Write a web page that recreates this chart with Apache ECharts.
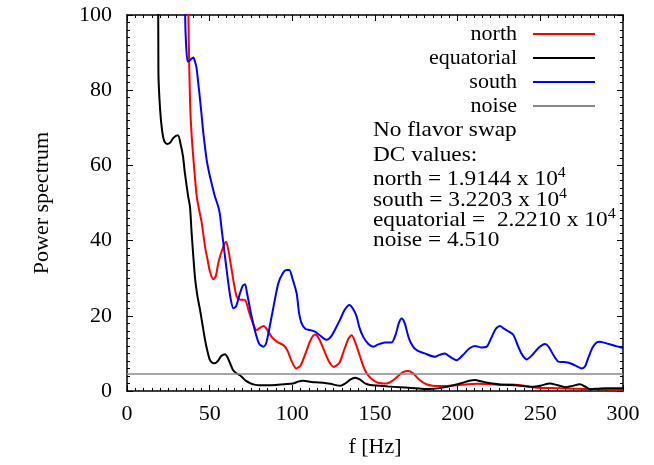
<!DOCTYPE html>
<html><head><meta charset="utf-8">
<script src="https://cdn.jsdelivr.net/npm/echarts@6/dist/echarts.min.js"></script>
<style>html,body{margin:0;padding:0;background:#fff}#c{width:654px;height:465px}</style>
</head><body><div id="c"></div>
<script>
// Frequencies in Hz, power spectrum values
const northData = [
  [36.6,130],[37.2,98],[38.1,77.4],[39.1,68],[40.5,60],[42.1,52],[43.7,48],[45.2,44.7],[47.2,38.4],[48.7,35],
  [50.2,31.7],[52.2,29.7],[53.7,30.5],[55.2,34],[57.5,37.5],[59.9,39.7],[61.5,37],[63.3,32.2],[66.3,25.1],[68.5,24.3],
  [71.4,24.2],[73.5,21.5],[75.4,18.9],[78.4,16.2],[80.5,16.8],[82.4,17.3],[84,16.8],[87.5,14.4],[91,13],[94.6,12.2],
  [97,10.8],[99.5,8],[102.3,6.0],[105,6.8],[108,10],[111,13.5],[113.7,15.0],[116,14],[119,11],[122,8],
  [125,6.4],[128.5,7.5],[131,10.5],[134,14],[135.9,14.8],[138,13],[141,9.1],[143,6.5],[145,4.7],[148,3.2],
  [151.8,2.2],[157,2.0],[160.5,2.7],[164,4.0],[167,5.0],[170,5.3],[173,4.7],[177,2.9],[181,1.8],[185,1.4],
  [192,1.3],[200,1.5],[206,1.8],[212,1.9],[220,1.8],[226,1.6],[232.6,1.7],[238,1.5],[245,1.0],[250,0.8],
  [256,0.8],[262,0.7],[270,0.6],[278,0.5],[285,0.5],[292,0.4],[300,0.3]
];
const equatorialData = [
  [18.6,160],[19.0,85],[20.0,75],[21.2,69.4],[22.5,66.5],[24.2,65.7],[26,66],[28,67.3],[30.8,68],[32.5,65.5],
  [33.9,62.3],[35,58],[36.9,52],[38.1,49],[39.1,42],[41.1,30.3],[42.5,25.5],[44.2,21.5],[45.7,17.5],[47.2,13.6],
  [48.7,10.5],[50.2,8.2],[51.7,7.5],[53.2,7.4],[55,8],[57,9.3],[59.3,9.8],[61,8.8],[62.5,7.2],[64.1,5.6],
  [66,4.8],[68.3,4.2],[70,3.5],[72,2.7],[74.4,2.1],[77,1.7],[80.4,1.5],[85,1.5],[90,1.6],[95,1.8],
  [100.4,2.0],[103.5,2.5],[106.5,2.7],[110,2.5],[114,2.3],[118.6,2.2],[123,1.9],[127,1.5],[129,1.4],[132,2.0],
  [135,3.0],[138,3.5],[141,3.0],[144,2.0],[147,1.6],[153,1.4],[158,1.2],[165,1.0],[172,0.8],[178,0.6],
  [183,0.5],[188,0.7],[193.5,1.1],[198,1.6],[203,2.2],[207,2.7],[210.5,2.9],[214,2.6],[218,2.2],[221,2.0],
  [226,1.7],[231.7,1.6],[238,1.4],[245.6,1.1],[250,1.4],[255.8,2.0],[260,1.6],[265,1.0],[269,1.3],[274,1.8],
  [277,1.2],[280,0.5],[285,0.6],[290,0.7],[295,0.7],[300,0.7]
];
const southData = [
  [34.7,130],[35.2,99],[35.7,92.5],[36.7,87.6],[38.1,88],[40.1,88.7],[41.2,87.5],[42.1,85.8],[43.2,81.5],[44.2,77.4],
  [45.2,73],[46.2,68.5],[48.2,61.4],[49.7,58],[51.2,55.2],[53,52],[55.2,49],[56.2,47],[57.3,42.8],[59.3,35.7],
  [61.3,28.6],[62.7,24.5],[64.3,22],[66,22.5],[68,25.5],[70,28],[71.4,28.4],[72.6,26],[75.4,19.8],[78,15],
  [80,12.5],[82.4,11.8],[84,12.5],[85.5,15.3],[88,21],[91.5,28.6],[94.5,31.5],[96.5,32.2],[98.2,32.2],[100,30],
  [102.6,26],[104,21],[105.6,18],[108,16.5],[110.7,16.2],[113.7,15.8],[117,14.7],[120.8,13.6],[123.5,14.5],[126,16.5],
  [128.8,18.9],[131.5,21.5],[134.5,22.9],[136.5,22],[138.9,19.8],[140.5,17],[142.9,14.4],[146,12.5],[149,11.8],[152,12.4],
  [156,12.9],[160,12.9],[162.5,15],[164.5,18.2],[166.2,19.3],[168,18],[170.5,14],[173,11.8],[175.2,10.9],[180,10],
  [186.3,9.1],[189,9.6],[192.3,10],[195,9.2],[199.4,8.2],[203,9.5],[207,11.3],[210.5,12.0],[214,11.6],[217.6,11.8],
  [220,13.8],[223,16.5],[225.6,17.3],[228,16.6],[231,15.8],[233.7,14.9],[236,12.5],[238.5,10],[241.8,8.4],[245,9.5],
  [249,11.5],[252.8,12.5],[255,11.8],[258,9.5],[260.9,7.8],[264,7.7],[268,7.4],[271,6.8],[275,6.0],[277,6.5],
  [279,8.8],[281.5,11.5],[284,12.9],[286,13.1],[289,12.8],[293,12.3],[297,11.8],[300,11.4]
];
const noiseLevel = 4.510;
const noiseData = [[0, noiseLevel], [300, noiseLevel]];
const seriesNames = ['north', 'equatorial', 'south', 'noise'];
const seriesColors = ['#ff0000', '#000000', '#0000ff', '#888888'];
const infoLines = ['No flavor swap', 'DC values:'];
const dcLines = [
  ['north = 1.9144 x 10', '4'],
  ['south = 3.2203 x 10', '4'],
  ['equatorial =  2.2210 x 10', '4']
];
const noiseLine = 'noise = 4.510';

const FONT = '"Liberation Serif", "Times New Roman", serif';
const chart = echarts.init(document.getElementById('c'));

const axisCommon = {
  axisLine: { show: true, onZero: false, lineStyle: { color: '#000', width: 1.5 } },
  axisTick: { show: true, inside: true, length: 6, lineStyle: { color: '#000', width: 1 } },
  minorTick: { show: true, splitNumber: 10, length: 3, lineStyle: { color: '#000', width: 1 } },
  splitLine: { show: false }
};

const SX = 1.06;
const textItems = [];
const infoY = [130, 155];
infoLines.forEach((t, i) => textItems.push({
  type: 'text', x: 373, y: infoY[i], scaleX: SX,
  style: { text: t, font: '22px ' + FONT, fill: '#000', verticalAlign: 'middle', align: 'left' }
}));
const dcY = [179, 200, 220];
dcLines.forEach((p, i) => textItems.push({
  type: 'text', x: 373, y: dcY[i] - 1, scaleX: SX,
  style: {
    text: '{n|' + p[0] + '}{s|' + p[1] + '}',
    verticalAlign: 'middle', align: 'left',
    rich: {
      n: { fontSize: 22, fontFamily: FONT, lineHeight: 24, verticalAlign: 'bottom', fill: '#000' },
      s: { fontSize: 15, fontFamily: FONT, lineHeight: 15, verticalAlign: 'top', fill: '#000' }
    }
  }
}));
textItems.push({
  type: 'text', x: 373, y: 240, scaleX: SX,
  style: { text: noiseLine, font: '22px ' + FONT, fill: '#000', verticalAlign: 'middle', align: 'left' }
});

const dataSets = [northData, equatorialData, southData, noiseData];

chart.setOption({
  animation: false,
  backgroundColor: '#fff',
  textStyle: { fontFamily: FONT },
  grid: { left: 127, right: 31, top: 15, bottom: 74, containLabel: false },
  legend: {
    data: seriesNames,
    orient: 'vertical',
    align: 'right',
    right: 59,
    top: 23,
    padding: 0,
    itemGap: 2,
    icon: 'rect',
    itemWidth: 62,
    itemHeight: 2,
    formatter: n => n + '  ',
    textStyle: { fontFamily: FONT, fontSize: 22, color: '#000', lineHeight: 22 }
  },
  xAxis: [
    Object.assign({
      type: 'value', min: 0, max: 300, interval: 50, position: 'bottom',
      name: 'f [Hz]', nameLocation: 'middle', nameGap: 45,
      nameTextStyle: { fontFamily: FONT, fontSize: 22, color: '#000' },
      axisLabel: { margin: 12, fontFamily: FONT, fontSize: 22, color: '#000' }
    }, axisCommon),
    Object.assign({
      type: 'value', min: 0, max: 300, interval: 50, position: 'top',
      axisLabel: { show: false }
    }, axisCommon)
  ],
  yAxis: [
    Object.assign({
      type: 'value', min: 0, max: 100, interval: 20, position: 'left',
      name: 'Power spectrum', nameLocation: 'middle', nameGap: 74,
      nameTextStyle: { fontFamily: FONT, fontSize: 22, color: '#000' },
      axisLabel: { margin: 15, fontFamily: FONT, fontSize: 22, color: '#000' }
    }, axisCommon),
    Object.assign({
      type: 'value', min: 0, max: 100, interval: 20, position: 'right',
      axisLabel: { show: false }
    }, axisCommon)
  ],
  series: seriesNames.map((n, i) => ({
    name: n,
    type: 'line',
    xAxisIndex: 0,
    yAxisIndex: 0,
    data: dataSets[i],
    symbol: 'none',
    showSymbol: false,
    smooth: i === 3 ? false : 0.25,
    clip: true,
    color: seriesColors[i],
    itemStyle: { color: seriesColors[i] },
    lineStyle: { color: seriesColors[i], width: i === 3 ? 1.6 : 2 }
  })),
  graphic: textItems
});
</script>
</body></html>
